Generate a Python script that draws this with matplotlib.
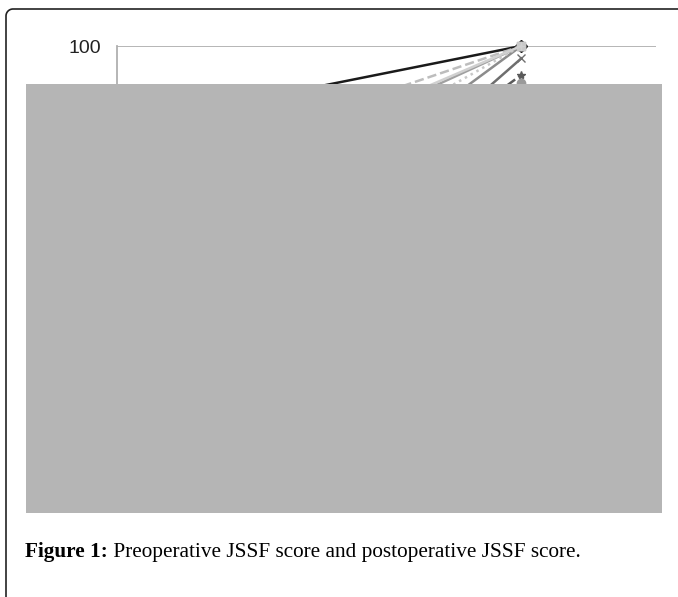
"""
Preoperative vs postoperative JSSF score (paired lines per patient)
Most of the chart is hidden under the gray panel in the source figure
"""

import numpy as np
import matplotlib
matplotlib.use("Agg")
import matplotlib.pyplot as plt
from matplotlib.patches import Rectangle
from matplotlib.lines import Line2D

# -------- DATA ----------
timepoints = ["Preoperative", "Postoperative"]
pre_scores = [87, 70, 78, 52, 40, 63, 58, 45, 72, 35]
post_scores = [100, 100, 100, 100, 97, 100, 91, 93, 100, 85]
line_colors = ["#1a1a1a", "#a0a0a0", "#bdbdbd", "#8c8c8c", "#6e6e6e",
               "#c8c8c8", "#9a9a9a", "#5a5a5a", "#d0d0d0", "#7a7a7a"]
line_markers = ["D", "s", "^", "o", "x", "s", "o", "*", "+", "D"]
line_styles = ["-", "-", "--", "-", "-", ":", "-", "--", "-", "-"]
caption_bold = "Figure 1:"
caption_text = " Preoperative JSSF score and postoperative JSSF score."

W, H = 678, 597

fig = plt.figure(figsize=(W / 100, H / 100), dpi=100)
fig.patch.set_facecolor("white")

# plot area in pixels: left 117, right 656, top 46, bottom 460
ax = fig.add_axes([117 / W, 1 - 460 / H, (656 - 117) / W, (460 - 46) / H])

x = list(range(len(timepoints)))
for pre, post, c, m, ls in zip(pre_scores, post_scores, line_colors,
                               line_markers, line_styles):
    ax.plot(x, [pre, post], color=c, marker=m, linestyle=ls, lw=1.8,
            markersize=6, markeredgecolor=c, clip_on=False)

ax.set_xlim(-0.5, 1.5)
ax.set_ylim(0, 100)
ax.set_xticks(x)
ax.set_xticklabels(timepoints)
ax.set_yticks([0, 20, 40, 60, 80, 100])
ax.yaxis.grid(True, color="#b0b0b0", lw=1.3)
ax.set_axisbelow(True)
ax.tick_params(length=0, pad=11.5)
for lbl in ax.get_yticklabels():
    lbl.set_fontfamily("Liberation Sans")
    lbl.set_fontsize(14)
    lbl.set_color("#222222")
for s in ["top", "right", "bottom"]:
    ax.spines[s].set_visible(False)
ax.spines["left"].set_color("#b0b0b0")
ax.spines["left"].set_linewidth(1.3)

# -------- GRAY PANEL COVERING THE CHART ----------
fig.patches.append(Rectangle((26 / W, 1 - 513 / H), (662 - 26) / W, (513 - 84) / H,
                             transform=fig.transFigure, facecolor="#b5b5b5",
                             edgecolor="none", zorder=10))

# -------- OUTER FRAME (rounded top-left corner, open right and bottom) ----------
r = 7
ang = np.linspace(np.pi / 2, np.pi, 20)
arc_x = 6 + r + r * np.cos(ang)
arc_y = 9 + r - r * np.sin(ang)
fx = np.concatenate([[W + 5], arc_x, [6]])
fy = np.concatenate([[9], arc_y, [H + 5]])
fig.lines.append(Line2D(fx / W, 1 - fy / H, transform=fig.transFigure,
                        color="#222222", lw=1.2, zorder=11))

# -------- CAPTION ----------
t1 = fig.text(25 / W, 1 - 552 / H, caption_bold, fontfamily="Liberation Serif",
              fontweight="bold", fontsize=15.3, va="center", ha="left")
fig.canvas.draw()
bb = t1.get_window_extent()
fig.text(bb.x1 / W, 1 - 552 / H, caption_text, fontfamily="Liberation Serif",
         fontsize=15.3, va="center", ha="left")

plt.savefig("out.png", dpi=100)
